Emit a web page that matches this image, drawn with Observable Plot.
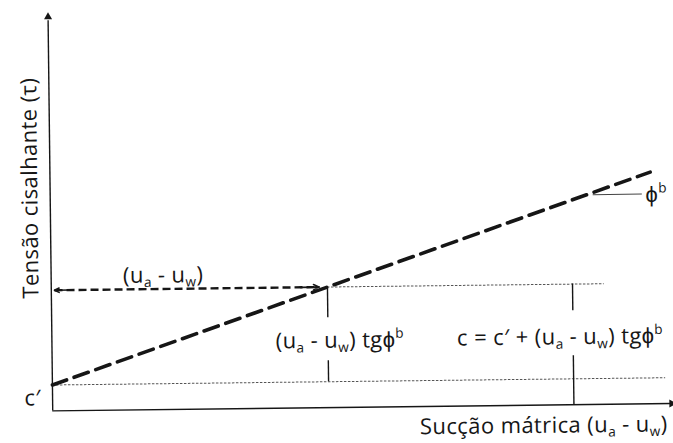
<!DOCTYPE html>
<html>
<head>
<meta charset="utf-8">
<script src="https://cdn.jsdelivr.net/npm/d3@7"></script>
<script src="https://cdn.jsdelivr.net/npm/@observablehq/plot@0.6"></script>
<style>
  html, body { margin: 0; padding: 0; background: #fff; }
  #chart { width: 673px; height: 443px; overflow: hidden; }
  #chart svg { transform: rotate(-0.68deg); transform-origin: 336px 221px; }
</style>
</head>
<body>
<div id="chart"></div>
<script>
// Unsaturated shear strength envelope: τ against matric suction (ua - uw)
const envelopeSuction = [0, 9.65];   // suction at the ends of the envelope
const envelopeShear = [0.65, 5.82];  // shear stress at those suctions
const cEff = 0.65;                   // effective cohesion c'
const suctionMark = 4.44;            // the chosen suction (ua - uw)
const shearMark = 3.03;              // τ on the envelope at that suction
const totalCohesionX = 8.38;         // where the c = c' + ... dimension is drawn

const labelEnvelope = "(u_a - u_w) tgϕ^b";
const labelCohesion = "c = c′ + (u_a - u_w) tgϕ^b";
const labelSuction = "(u_a - u_w)";
const labelXAxis = "Sucção mátrica (u_a - u_w)";
const labelYAxis = "Tensão cisalhante (τ)";
const labelC = "c′";
const labelPhi = "ϕ^b";

const envelope = envelopeSuction.map((s, i) => ({suction: s, shear: envelopeShear[i]}));

const ink = "#161616";
const font = "'Open Sans', sans-serif";
const fs = 22;

const chart = Plot.plot({
  width: 673,
  height: 443,
  marginLeft: 50,
  marginRight: 1,
  marginTop: 9,
  marginBottom: 36,
  x: {domain: [0, 10], axis: null},
  y: {domain: [0, 10], axis: null},
  style: {fontFamily: font, background: "transparent", color: ink},
  marks: [
    // axes with arrowheads
    Plot.ruleX([0], {y1: 0, y2: 9.8, stroke: ink, strokeWidth: 1.4}),
    Plot.ruleY([0], {x1: 0, x2: 9.95, stroke: ink, strokeWidth: 1.4}),
    Plot.dot([{x: 0, y: 10}], {x: "x", y: "y", symbol: "triangle", r: 3, fill: ink, stroke: null, dy: 4}),
    Plot.dot([{x: 10, y: 0}], {x: "x", y: "y", symbol: "triangle", r: 3, fill: ink, stroke: null, rotate: 90, dx: -3}),

    // dotted reference levels
    Plot.ruleY([cEff], {x1: 0, x2: 9.86, stroke: "#555", strokeWidth: 1, strokeDasharray: "2.5,1.5"}),
    Plot.ruleY([shearMark], {x1: suctionMark, x2: 8.89, stroke: "#555", strokeWidth: 1, strokeDasharray: "2.5,1.5"}),

    // dimension lines
    Plot.ruleX([suctionMark], {y1: shearMark, y2: 2.26, stroke: ink, strokeWidth: 1.4}),
    Plot.ruleX([suctionMark], {y1: 1.18, y2: cEff, stroke: ink, strokeWidth: 1.4}),
    Plot.ruleX([totalCohesionX], {y1: shearMark, y2: 2.36, stroke: ink, strokeWidth: 1.4}),
    Plot.ruleX([totalCohesionX], {y1: 1.23, y2: 0, stroke: ink, strokeWidth: 1.4}),

    // suction (ua - uw) shown as a double-headed dashed arrow
    Plot.ruleY([shearMark], {x1: 0.06, x2: 4.3, stroke: ink, strokeWidth: 2.4, strokeDasharray: "8,4"}),
    Plot.arrow([{x1: 0.3, x2: 0.05}], {x1: "x1", x2: "x2", y1: shearMark, y2: shearMark, stroke: ink, strokeWidth: 1.6, headLength: 9, headAngle: 50}),
    Plot.arrow([{x1: 4.0, x2: 4.31}], {x1: "x1", x2: "x2", y1: shearMark, y2: shearMark, stroke: ink, strokeWidth: 1.6, headLength: 9, headAngle: 50}),

    // failure envelope
    Plot.line(envelope, {x: "suction", y: "shear", stroke: ink, strokeWidth: 3.6, strokeDasharray: "15,8"}),

    // ϕb leader
    Plot.ruleY([5.27], {x1: 8.73, x2: 9.52, stroke: "#444", strokeWidth: 1}),

    // labels
    Plot.text([labelSuction], {x: 1.8, y: 3.37, text: d => d, fontSize: fs, fill: ink, textAnchor: "middle"}),
    Plot.text([labelEnvelope], {x: 4.63, y: 1.68, text: d => d, fontSize: fs, fill: ink, textAnchor: "middle"}),
    Plot.text([labelCohesion], {x: 8.17, y: 1.7, text: d => d, fontSize: fs, fill: ink, textAnchor: "middle"}),
    Plot.text([labelXAxis], {x: 9.88, y: -0.52, text: d => d, fontSize: fs, fill: ink, textAnchor: "end"}),
    Plot.text([labelYAxis], {x: -0.32, y: 5.6, text: d => d, fontSize: fs, fill: ink, rotate: -90, textAnchor: "middle"}),
    Plot.text([labelC], {x: -0.32, y: 0.32, text: d => d, fontSize: fs, fill: ink, textAnchor: "middle"}),
    Plot.text([labelPhi], {x: 9.57, y: 5.25, text: d => d, fontSize: fs, fill: ink, textAnchor: "start"})
  ]
});

// Turn the _x / ^x markers into subscript and superscript tspans
function richText(textEl) {
  textEl.style.letterSpacing = "0.4px";
  const raw = textEl.textContent;
  if (!/[_^]/.test(raw)) return;
  const size = parseFloat(textEl.getAttribute("font-size")) || fs;
  const small = size * 0.62;
  const shift = {"_": size * 0.2, "^": -size * 0.42};
  while (textEl.firstChild) textEl.removeChild(textEl.firstChild);
  const ns = "http://www.w3.org/2000/svg";
  let buf = "", pending = 0;
  const flush = () => {
    if (!buf) return;
    const t = document.createElementNS(ns, "tspan");
    if (pending) { t.setAttribute("dy", pending); pending = 0; }
    t.style.whiteSpace = "pre";
    t.textContent = buf;
    textEl.appendChild(t);
    buf = "";
  };
  for (let i = 0; i < raw.length; i++) {
    const ch = raw[i];
    if ((ch === "_" || ch === "^") && i + 1 < raw.length) {
      flush();
      const t = document.createElementNS(ns, "tspan");
      t.setAttribute("dy", pending + shift[ch]);
      t.setAttribute("font-size", small);
      t.textContent = raw[i + 1];
      textEl.appendChild(t);
      pending = -shift[ch];
      i++;
    } else {
      buf += ch;
    }
  }
  flush();
}
chart.querySelectorAll("text").forEach(richText);

document.getElementById("chart").appendChild(chart);
</script>
</body>
</html>
